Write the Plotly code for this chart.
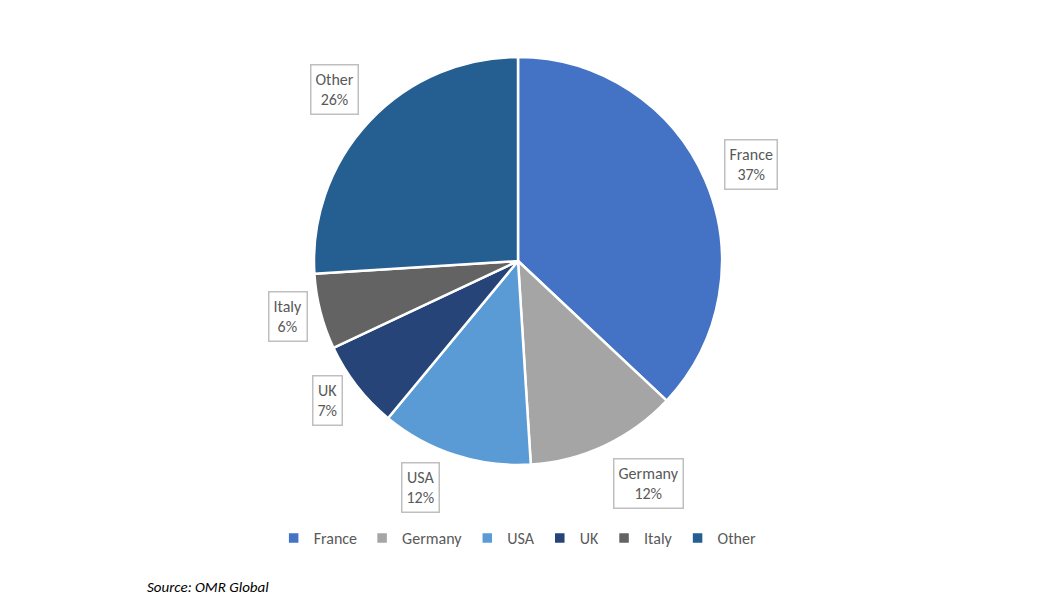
import plotly.graph_objects as go

labels = ["France", "Germany", "USA", "UK", "Italy", "Other"]
values = [37, 12, 12, 7, 6, 26]
colors = ["#4472C4", "#A5A5A5", "#5B9BD5", "#264478", "#636363", "#255E91"]
label_pos = [(749, 159), (635, 487), (435, 490), (340, 391), (301, 316), (338, 93)]

W, H = 1038, 608
FONT = "Calibri, Carlito, Lato, sans-serif"

def px2paper(px, py):
    return (px - 72.7) / 0.878 / W, 1 - (py - 43) / 0.886 / H

fig = go.Figure(go.Pie(
    labels=labels, values=values, sort=False, direction="clockwise", rotation=0,
    marker=dict(colors=colors, line=dict(color="white", width=2.5)),
    textinfo="none", hoverinfo="label+percent",
    domain=dict(x=[306/W, 714/W], y=[1-457/H, 1-49/H]),
))
anns = []
for name, v, (px, py) in zip(labels, values, label_pos):
    x, y = px2paper(px, py)
    anns.append(dict(x=x, y=y, xref="paper", yref="paper", showarrow=False,
                     text=f"{name}<br>{v}%", align="center",
                     font=dict(family=FONT, size=16, color="#595959"),
                     bordercolor="#BFBFBF", borderwidth=1.5, borderpad=4, bgcolor="white"))
anns.append(dict(x=137/W, y=1-590/H, xref="paper", yref="paper", showarrow=False, xanchor="left",
                 text="<i>Source: OMR Global</i>",
                 font=dict(family=FONT, size=15, color="black")))
fig.update_layout(
    width=W, height=H, margin=dict(l=0, r=0, t=0, b=0, autoexpand=False), paper_bgcolor="white",
    annotations=anns,
    legend=dict(orientation="h", x=0.491, xanchor="center", y=1-530/H, yanchor="middle",
                xref="container", yref="container",
                font=dict(family=FONT, size=16, color="#595959"),
                itemwidth=30),
)
fig.write_html("out.html")
